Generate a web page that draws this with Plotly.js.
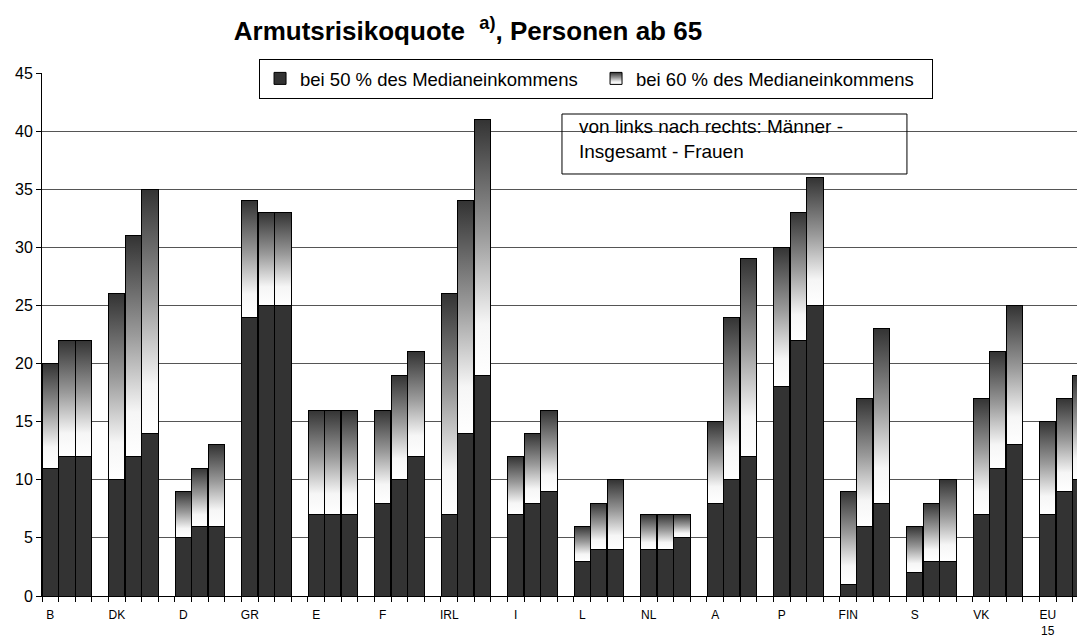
<!DOCTYPE html>
<html>
<head>
<meta charset="utf-8">
<script src="https://cdn.plot.ly/plotly-3.0.1.min.js"></script>
<style>html,body{margin:0;padding:0;background:#fff}</style>
</head>
<body>
<div id="chart" style="width:1077px;height:635px"></div>
<script>
var countries = ['B', 'DK', 'D', 'GR', 'E', 'F', 'IRL', 'I', 'L', 'NL', 'A', 'P', 'FIN', 'S', 'VK', 'EU<br>15'];

// bei 50 % des Medianeinkommens (Männer, Insgesamt, Frauen)
var men50   = [11, 10, 5, 24, 7, 8, 7, 7, 3, 4, 8, 18, 1, 2, 7, 7];
var total50 = [12, 12, 6, 25, 7, 10, 14, 8, 4, 4, 10, 22, 6, 3, 11, 9];
var women50 = [12, 14, 6, 25, 7, 12, 19, 9, 4, 5, 12, 25, 8, 3, 13, 10];

// bei 60 % des Medianeinkommens
var men60   = [20, 26, 9, 34, 16, 16, 26, 12, 6, 7, 15, 30, 9, 6, 17, 15];
var total60 = [22, 31, 11, 33, 16, 19, 34, 14, 8, 7, 24, 33, 17, 8, 21, 17];
var women60 = [22, 35, 13, 33, 16, 21, 41, 16, 10, 7, 29, 36, 23, 10, 25, 19];

var font = 'Liberation Sans, Arial, sans-serif';

// each country gets 4 slots: Männer, Insgesamt, Frauen, gap
var xs = [], low = [], rest = [], labelPos = [];
var groups50 = [men50, total50, women50];
var groups60 = [men60, total60, women60];
countries.forEach(function (c, g) {
    labelPos.push(g * 4 + 0.5);
    for (var k = 0; k < 3; k++) {
        xs.push(g * 4 + k + 0.5);
        low.push(groups50[k][g]);
        rest.push(groups60[k][g] - groups50[k][g]);
    }
});

var bar50 = {
    type: 'bar',
    x: xs,
    y: low,
    width: 0.97,
    name: 'bei 50 % des Medianeinkommens',
    marker: {color: '#333333', line: {color: '#000', width: 1}},
    hoverinfo: 'skip'
};

var bar60 = {
    type: 'bar',
    x: xs,
    y: rest,
    width: 0.97,
    name: 'bei 60 % des Medianeinkommens',
    marker: {color: '#999999', line: {color: '#000', width: 1}},
    hoverinfo: 'skip'
};

var layout = {
    width: 1077,
    height: 635,
    margin: {l: 42, r: 0, t: 73, b: 39},
    paper_bgcolor: '#fff',
    plot_bgcolor: '#fff',
    font: {family: font, color: '#000'},
    barmode: 'stack',
    showlegend: true,
    title: {
        text: '<b>Armutsrisikoquote  <sup>a)</sup>, Personen ab 65</b>',
        font: {family: font, size: 26, color: '#000'},
        x: 0.4345, xanchor: 'center',
        y: 0.951, yanchor: 'middle'
    },
    xaxis: {
        range: [0, 62.26],
        tickmode: 'array',
        tickvals: labelPos,
        ticktext: countries,
        ticks: '',
        ticklabelstandoff: 8,
        tickfont: {size: 12},
        showline: true, linecolor: '#000', linewidth: 1,
        showgrid: false, zeroline: false,
        minor: {tickmode: 'linear', tick0: 0, dtick: 1, ticks: 'outside', ticklen: 5, tickcolor: '#000', showgrid: false}
    },
    yaxis: {
        range: [0, 45],
        dtick: 5,
        ticks: 'outside', ticklen: 5, tickcolor: '#000',
        tickfont: {size: 16},
        showline: true, linecolor: '#000', linewidth: 1,
        gridcolor: '#555', gridwidth: 1,
        zeroline: false
    },
    legend: {
        orientation: 'h',
        traceorder: 'normal',
        x: 0.2097, xanchor: 'left',
        y: 1.027, yanchor: 'top',
        bgcolor: '#fff',
        bordercolor: '#000', borderwidth: 1,
        font: {size: 18.5},
        entrywidth: 291
    },
    shapes: [{
        type: 'rect', xref: 'paper', yref: 'paper',
        x0: 0.5024, x1: 0.8357, y0: 0.8069, y1: 0.9216,
        line: {color: '#000', width: 1}
    }],
    annotations: [{
        xref: 'paper', yref: 'paper',
        x: 0.5169, xanchor: 'left',
        y: 0.9216, yanchor: 'top',
        align: 'left',
        showarrow: false,
        text: 'von links nach rechts: Männer -<br>Insgesamt - Frauen',
        font: {size: 19}
    }]
};

Plotly.newPlot('chart', [bar50, bar60], layout, {staticPlot: true}).then(function (gd) {
    // vertical fade for the 60 % part: dark on top, white towards the bottom
    var ns = 'http://www.w3.org/2000/svg';
    var defs = gd.querySelector('svg.main-svg defs');
    var grad = document.createElementNS(ns, 'linearGradient');
    grad.setAttribute('id', 'fade60');
    grad.setAttribute('x1', '0'); grad.setAttribute('y1', '0');
    grad.setAttribute('x2', '0'); grad.setAttribute('y2', '1');
    [['0', '#333333'], ['0.45', '#9a9a9a'], ['0.8', '#f6f6f6'], ['1', '#ffffff']].forEach(function (s) {
        var stop = document.createElementNS(ns, 'stop');
        stop.setAttribute('offset', s[0]);
        stop.setAttribute('stop-color', s[1]);
        grad.appendChild(stop);
    });
    defs.appendChild(grad);

    var traces = gd.querySelectorAll('.barlayer .trace');
    traces[1].querySelectorAll('path').forEach(function (p) { p.style.fill = 'url(#fade60)'; });
    var legendItems = gd.querySelectorAll('.legend .traces');
    legendItems[1].querySelectorAll('.legendpoints path').forEach(function (p) { p.style.fill = 'url(#fade60)'; });
});
</script>
</body>
</html>
